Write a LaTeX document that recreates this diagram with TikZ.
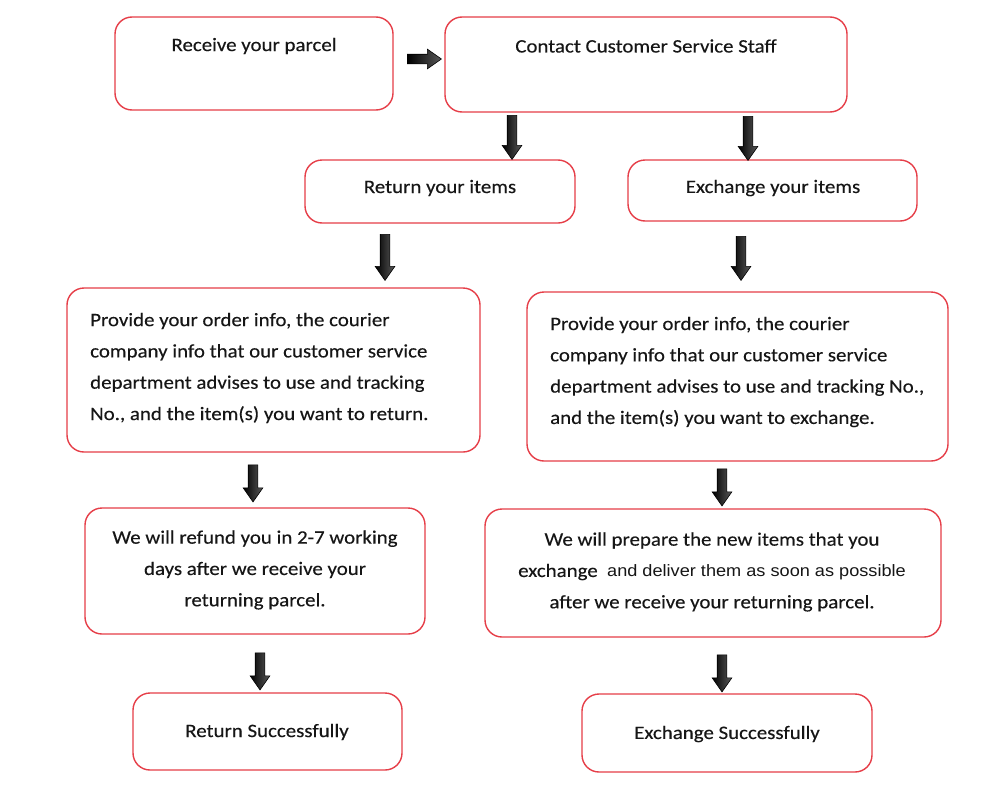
\documentclass[tikz,border=0pt]{standalone}
\usepackage{fontspec}
\setmainfont{Carlito}[FakeStretch=1.1,FakeBold=0.25]
\newfontfamily\arialf{Liberation Sans}[FakeStretch=1.1]
\usetikzlibrary{shapes.arrows}
\definecolor{boxred}{RGB}{230,62,72}
\definecolor{ink}{RGB}{22,22,22}
\begin{document}
\begin{tikzpicture}[x=1pt,y=-1pt,
  box/.style={draw=boxred, line width=1.4pt, rounded corners=17pt, fill=white},
  txt/.style={font=\fontsize{19}{31.3}\selectfont, text=ink, inner sep=0pt},
  blockarrow/.style={single arrow, draw=black, line width=0.6pt,
    left color=black, right color=black!65, shading angle=90,
    minimum width=19pt, single arrow head extend=5pt,
    single arrow tip angle=70, inner xsep=0pt, inner ysep=4.5pt}]
\useasboundingbox (0,0) rectangle (1000,803);
\fill[white] (0,0) rectangle (1000,803);
% boxes
\draw[box] (115,17) rectangle (393,110);
\node[txt] (t1) at (254,46) {Receive your parcel};
\draw[box] (445,17) rectangle (847,112);
\node[txt] (t2) at (646,46) {Contact Customer Service Staff};
\draw[box] (305,160) rectangle (575,223);
\node[txt] (t3) at (440,188) {Return your items};
\draw[box] (628,160) rectangle (917,221);
\node[txt] (t4) at (773,188) {Exchange your items};
\draw[box] (67,288) rectangle (480,452);
\node[txt, align=left, anchor=west] (t5) at (90,368) {Provide your order info, the courier\\company info that our customer service\\department advises to use and tracking\\No., and the item(s) you want to return.};
\draw[box] (527,292) rectangle (948,461);
\node[txt, align=left, anchor=west] (t6) at (550,372) {Provide your order info, the courier\\company info that our customer service\\department advises to use and tracking No.,\\and the item(s) you want to exchange.};
\draw[box] (85,508) rectangle (425,634);
\node[txt, align=center] (t7) at (255,570) {We will refund you in 2-7 working\\days after we receive your\\returning parcel.};
\draw[box] (485,509) rectangle (941,637);
\node[txt, align=center] (t8) at (712,572) {We will prepare the new items that you\\exchange \ {\arialf\fontsize{16.5}{31.3}\selectfont and deliver them as soon as possible}\\after we receive your returning parcel.};
\draw[box] (133,693) rectangle (402,770);
\node[txt] (t9) at (267,732) {Return Successfully};
\draw[box] (582,694) rectangle (872,772);
\node[txt] (t10) at (727,734) {Exchange Successfully};
% block arrows
\node[blockarrow, minimum height=34pt] (a1) at (421,59) {};
\node[blockarrow, minimum height=44pt, rotate=-90] (a2) at (512,134) {};
\node[blockarrow, minimum height=44pt, rotate=-90] (a3) at (748,135) {};
\node[blockarrow, minimum height=46pt, rotate=-90] (a4) at (385,254) {};
\node[blockarrow, minimum height=44pt, rotate=-90] (a5) at (741,255) {};
\node[blockarrow, minimum height=37pt, rotate=-90] (a6) at (253,480) {};
\node[blockarrow, minimum height=37pt, rotate=-90] (a7) at (722,484) {};
\node[blockarrow, minimum height=37pt, rotate=-90] (a8) at (260,668) {};
\node[blockarrow, minimum height=37pt, rotate=-90] (a9) at (722,670) {};
\end{tikzpicture}
\end{document}
